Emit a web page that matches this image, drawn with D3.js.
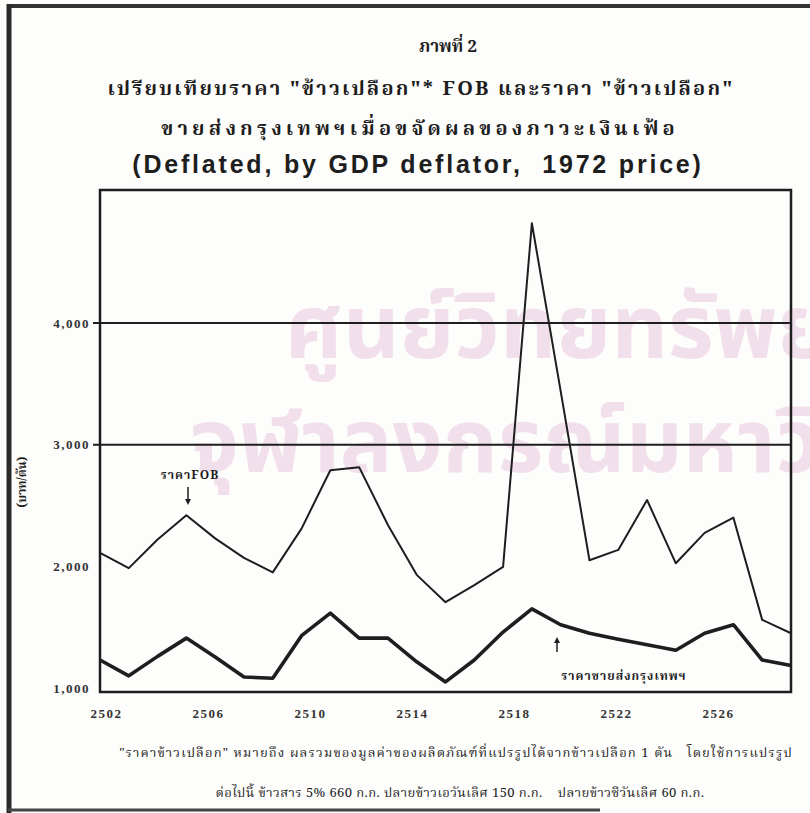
<!DOCTYPE html>
<html>
<head>
<meta charset="utf-8">
<script src="https://cdn.jsdelivr.net/npm/d3@7"></script>
<style>
  body { margin: 0; background: #fdfdfb; }
  svg { display: block; }
</style>
</head>
<body>
<div id="chart"></div>
<script>
var width = 810;
var height = 813;

// years (B.E.) and prices, baht per ton
var years = [2502, 2503, 2504, 2505, 2506, 2507, 2508, 2509, 2510, 2511, 2512, 2513, 2514,
             2515, 2516, 2517, 2518, 2519, 2520, 2521, 2522, 2523, 2524, 2525, 2526];
var fobPrice = [2110, 1985, 2220, 2420, 2230, 2070, 1950, 2310, 2790, 2815, 2340, 1930, 1705,
                1845, 1995, 4820, 3440, 2050, 2135, 2545, 2025, 2275, 2400, 1560, 1450];
var bkkPrice = [1230, 1100, 1260, 1410, 1255, 1090, 1080, 1430, 1615, 1410, 1410, 1215, 1050,
                1230, 1460, 1650, 1520, 1450, 1400, 1355, 1310, 1450, 1520, 1230, 1185];
var yTicks = [1000, 2000, 3000, 4000];
var gridTicks = [3000, 4000];
var xTicks = [2502, 2506, 2510, 2514, 2518, 2522, 2526];

var thaiFont = "'Noto Serif Thai', Norasi, 'Noto Sans Thai', Loma, Garuda, serif";
var ink = "#1e1e1e";

var plot = {left: 100, right: 791, top: 190, bottom: 692};

var svg = d3.select("#chart")
    .append("svg")
    .attr("width", width)
    .attr("height", height);

// faint library watermark behind everything (runs off the page like the scan)
var wm = svg.append("g")
    .attr("fill", "#f1e0ec")
    .attr("font-family", "'Noto Sans Thai', Loma, Garuda, sans-serif")
    .attr("font-weight", "bold")
    .attr("font-size", "88px");
wm.append("text").attr("x", 285).attr("y", 358).text("ศูนย์วิทยทรัพยากร");
wm.append("text").attr("x", 190).attr("y", 472).text("จุฬาลงกรณ์มหาวิทยาลัย");

// page frame
svg.append("line").attr("x1", 8).attr("x2", width).attr("y1", 6).attr("y2", 6)
    .attr("stroke", "#333").attr("stroke-width", 4);
svg.append("line").attr("x1", 9).attr("x2", 9).attr("y1", 4).attr("y2", height)
    .attr("stroke", "#2a2a2a").attr("stroke-width", 5);
svg.append("line").attr("x1", 8).attr("x2", 600).attr("y1", 810).attr("y2", 810)
    .attr("stroke", "#444").attr("stroke-width", 3);

// titles
var titles = [
  {text: "ภาพที่ 2", y: 52, size: 17, ls: 0, font: thaiFont, x: 448},
  {text: "เปรียบเทียบราคา \"ข้าวเปลือก\"* FOB และราคา \"ข้าวเปลือก\"", y: 95, size: 20, ls: 2.2, font: thaiFont, x: 421},
  {text: "ขายส่งกรุงเทพฯเมื่อขจัดผลของภาวะเงินเฟ้อ", y: 135, size: 20, ls: 4.2, font: thaiFont, x: 420},
  {text: "(Deflated, by GDP deflator,  1972 price)", y: 173, size: 25, ls: 2.8, font: "'Liberation Sans', Arial, sans-serif", x: 418}
];
svg.selectAll("text.title")
    .data(titles)
    .enter()
    .append("text")
    .attr("class", "title")
    .attr("x", function(d) { return d.x; })
    .attr("y", function(d) { return d.y; })
    .attr("text-anchor", "middle")
    .attr("font-family", function(d) { return d.font; })
    .attr("font-weight", "bold")
    .attr("font-size", function(d) { return d.size + "px"; })
    .attr("letter-spacing", function(d) { return d.ls + "px"; })
    .attr("fill", ink)
    .style("white-space", "pre")
    .text(function(d) { return d.text; });

// scales
var x = d3.scaleLinear()
    .domain([years[0], years[years.length - 1]])
    .range([plot.left, plot.right]);

// the printed year labels sit on their own, slightly narrower spacing
var xLabel = d3.scaleLinear()
    .domain([2502, 2526])
    .range([106, 718]);

var y = d3.scaleLinear()
    .domain([1000, 4000])
    .range([688, 323]);

// plot box
svg.append("rect")
    .attr("x", plot.left)
    .attr("y", plot.top)
    .attr("width", plot.right - plot.left)
    .attr("height", plot.bottom - plot.top)
    .attr("fill", "none")
    .attr("stroke", ink)
    .attr("stroke-width", 2.5);

// grid lines at 3,000 and 4,000 with a small tick outside
svg.selectAll("line.grid")
    .data(gridTicks)
    .enter()
    .append("line")
    .attr("class", "grid")
    .attr("x1", plot.left - 7)
    .attr("x2", plot.right)
    .attr("y1", function(d) { return y(d); })
    .attr("y2", function(d) { return y(d); })
    .attr("stroke", ink)
    .attr("stroke-width", 2);

// y axis labels
var yAxis = d3.axisLeft(y)
    .tickValues(yTicks)
    .tickSize(0)
    .tickPadding(10)
    .tickFormat(d3.format(","));
var gy = svg.append("g")
    .attr("transform", "translate(" + plot.left + ",0)")
    .call(yAxis);
gy.select(".domain").remove();
gy.selectAll("text")
    .attr("font-family", "'Liberation Serif', 'DejaVu Serif', serif")
    .attr("font-weight", "bold")
    .attr("font-size", "13px")
    .attr("letter-spacing", "1.5px")
    .attr("fill", "#333");

// x axis labels
var xAxis = d3.axisBottom(xLabel)
    .tickValues(xTicks)
    .tickSize(0)
    .tickPadding(17)
    .tickFormat(d3.format("d"));
var gx = svg.append("g")
    .attr("transform", "translate(0," + plot.bottom + ")")
    .call(xAxis);
gx.select(".domain").remove();
gx.selectAll("text")
    .attr("font-family", "'Liberation Serif', 'DejaVu Serif', serif")
    .attr("font-weight", "bold")
    .attr("font-size", "13px")
    .attr("letter-spacing", "1.5px")
    .attr("fill", "#333");

// y axis title
svg.append("text")
    .attr("transform", "translate(26,482) rotate(-90)")
    .attr("text-anchor", "middle")
    .attr("font-family", thaiFont)
    .attr("font-weight", "bold")
    .attr("font-size", "12px")
    .attr("fill", ink)
    .text("(บาท/ตัน)");

// lines
var line = function(values) {
  return d3.line()
    .x(function(d, i) { return x(years[i]); })
    .y(function(d) { return y(d); })(values);
};

svg.append("path")
    .attr("d", line(fobPrice))
    .attr("fill", "none")
    .attr("stroke", ink)
    .attr("stroke-width", 2)
    .attr("stroke-linejoin", "round");

svg.append("path")
    .attr("d", line(bkkPrice))
    .attr("fill", "none")
    .attr("stroke", ink)
    .attr("stroke-width", 3.6)
    .attr("stroke-linejoin", "round");

// series labels with arrows
var arrowHead = function(px, py, dir) {
  return "M" + (px - 3) + "," + (py - 6 * dir) + "L" + px + "," + py + "L" + (px + 3) + "," + (py - 6 * dir) + "Z";
};

svg.append("text")
    .attr("x", 190)
    .attr("y", 479)
    .attr("text-anchor", "middle")
    .attr("font-family", thaiFont)
    .attr("font-size", "12px")
    .attr("font-weight", "bold")
    .attr("letter-spacing", "1px")
    .attr("fill", ink)
    .text("ราคาFOB");
svg.append("line").attr("x1", 188).attr("x2", 188).attr("y1", 487).attr("y2", 503)
    .attr("stroke", ink).attr("stroke-width", 1.5);
svg.append("path").attr("d", arrowHead(188, 505, 1)).attr("fill", ink);

svg.append("text")
    .attr("x", 624)
    .attr("y", 680)
    .attr("text-anchor", "middle")
    .attr("font-family", thaiFont)
    .attr("font-size", "12px")
    .attr("font-weight", "bold")
    .attr("letter-spacing", "1px")
    .attr("fill", ink)
    .text("ราคาขายส่งกรุงเทพฯ");
svg.append("line").attr("x1", 557).attr("x2", 557).attr("y1", 639).attr("y2", 652)
    .attr("stroke", ink).attr("stroke-width", 1.5);
svg.append("path").attr("d", arrowHead(557, 637, -1)).attr("fill", ink);

// footnote
var notes = [
  {text: "\"ราคาข้าวเปลือก\" หมายถึง ผลรวมของมูลค่าของผลิตภัณฑ์ที่แปรรูปได้จากข้าวเปลือก 1 ตัน   โดยใช้การแปรรูป", x: 456, ls: 1.1},
  {text: "ต่อไปนี้ ข้าวสาร 5% 660 ก.ก. ปลายข้าวเอวันเลิศ 150 ก.ก.    ปลายข้าวซีวันเลิศ 60 ก.ก.", x: 460, ls: 0.4}
];
svg.selectAll("text.note")
    .data(notes)
    .enter()
    .append("text")
    .attr("class", "note")
    .attr("x", function(d) { return d.x; })
    .attr("y", function(d, i) { return 757 + i * 40; })
    .attr("text-anchor", "middle")
    .attr("font-family", thaiFont)
    .attr("font-size", "13px")
    .attr("letter-spacing", function(d) { return d.ls + "px"; })
    .attr("fill", ink)
    .style("white-space", "pre")
    .text(function(d) { return d.text; });
</script>
</body>
</html>
